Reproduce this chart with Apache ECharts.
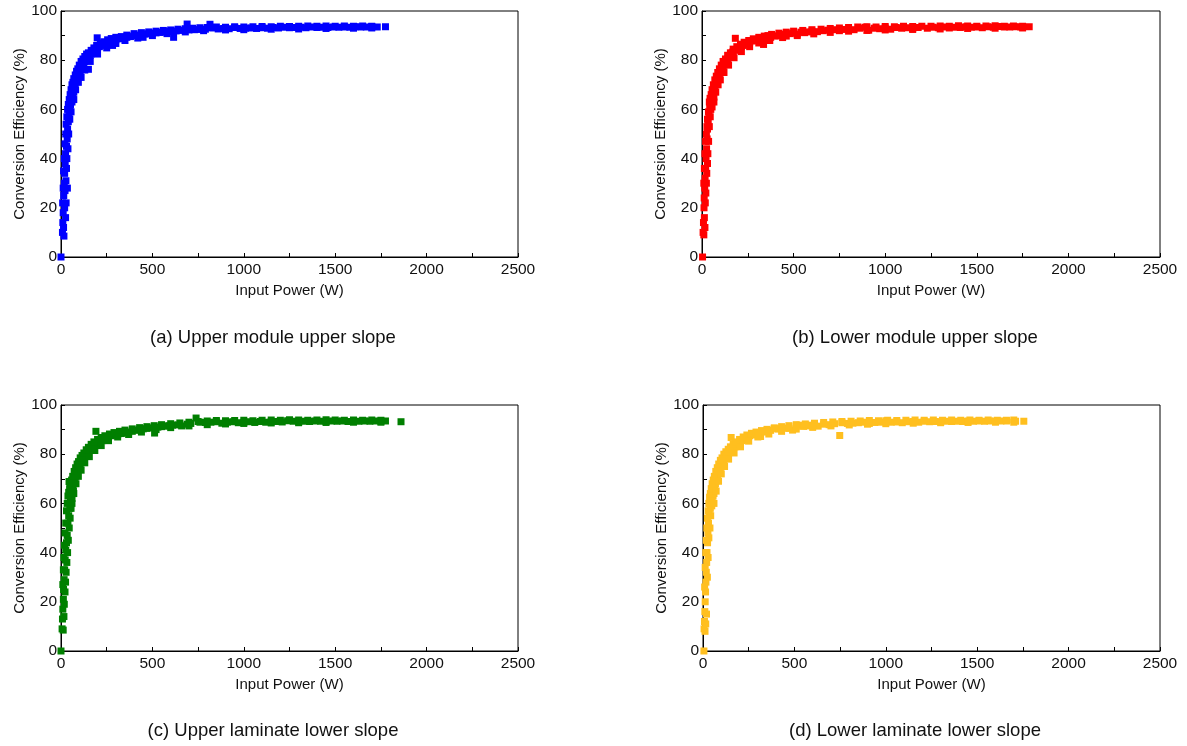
<!DOCTYPE html>
<html>
<head>
<meta charset="utf-8">
<script src="https://cdn.jsdelivr.net/npm/echarts@6/dist/echarts.min.js"></script>
<style>html,body{margin:0;padding:0;background:#fff}#c{width:1187px;height:746px}</style>
</head>
<body>
<div id="c"></div>
<script>
const panelTitles = ['(a) Upper module upper slope', '(b) Lower module upper slope', '(c) Upper laminate lower slope', '(d) Lower laminate lower slope'];
const xName = 'Input Power (W)';
const yName = 'Conversion Efficiency (%)';
const xTicks = [0, 500, 1000, 1500, 2000, 2500];
const yTicks = [0, 20, 40, 60, 80, 100];
const colors = ['#0000ff', '#ff0000', '#007f00', '#ffbf1f'];

const upperModule = [[0,0],[8,10],[10,14],[12,18],[9,22],[14,12],[15,25],[16,8.5],[18,30],[20,20],[20,34],[22,27],[23,38],[25,16],[25,42],[27,31],[28,22],[30,45],[30,36],[32,40],[34,48],[35,28],[36,52],[38,44],[40,55],[42,50],[44,58],[45,61],[48,56],[50,60],[52,62],[55,59],[58,64],[60,63],[62,66],[65,65],[68,68],[70,67],[72,70],[75,69],[78,71],[80,72],[85,73],[88,72],[90,74],[95,75],[100,76],[105,75],[110,77],[115,78],[120,77.5],[125,79],[130,79.5],[135,80],[140,80.5],[145,81],[150,76.3],[150,81.5],[155,82],[160,82],[165,82.5],[170,83],[175,83.5],[180,84],[185,84],[190,84.5],[198,89.1],[200,85],[210,85.5],[220,86],[230,86.5],[240,87],[250,87],[260,87.5],[270,87.8],[282,86],[290,88],[300,88.3],[320,88.7],[340,89],[360,89.3],[380,89.6],[400,90],[420,90.2],[449,89.3],[460,90.6],[480,90.8],[500,91],[520,91.1],[540,91.3],[560,91.4],[580,91.6],[600,91.7],[616,89.3],[630,91.9],[660,92.1],[690,94.7],[700,92.3],[730,92.4],[760,92.5],[790,92.6],[815,94.6],[830,93.1],[860,92.7],[890,92.9],[920,92.8],[950,93.3],[980,92.9],[1010,93],[1040,93.1],[1070,92.9],[1100,93.2],[1130,93],[1160,93.3],[1190,93.1],[1220,93.4],[1250,93.2],[1280,93.3],[1310,93.4],[1340,93.2],[1370,93.5],[1400,93.3],[1430,93.4],[1460,93.3],[1490,93.5],[1520,93.4],[1550,93.5],[1580,93.4],[1610,93.6],[1640,93.5],[1670,93.5],[1700,93.6],[1730,93.5],[1775,93.6],
[12,28],[14,35],[18,40],[22,46],[26,50],[28,54],[32,57],[36,60],[40,62],[45,64],[50,66],[55,68],[60,70],[65,71],[70,72.5],[78,74],[85,75.5],[92,76.5],[100,78],[110,79.5],[120,80.5],[130,81.5],[140,82.5],[150,83],[165,84],[180,85],[195,86],[215,87],[235,87.5],[255,88.3],[275,88.8],[300,89.3],[330,89.6],[360,90.2],[400,90.8],[440,91.2],[480,91.5],[520,91.8],[560,92.1],[600,92.3],[640,92.6],[680,92.8],[720,93],[760,93.2],[800,93.3],[850,93.5],[900,93.4],[950,93.6],[1000,93.5],[1050,93.6],[1100,93.7],[1150,93.6],[1200,93.8],[1250,93.7],[1300,93.8],[1350,93.9],[1400,93.8],[1450,93.9],[1500,93.8],[1550,93.9],[1600,93.8],[1650,93.9],[1700,93.8],
[70,64],[80,68],[95,71],[110,73],[130,76],[160,79.5],[200,82.5],[250,85],[300,86.8],[350,88],[420,89],[500,90],[580,90.8],[680,91.5],[780,92],[900,92.3],[1000,92.4],[1150,92.6],[1300,92.7],[1450,92.9],[1600,93],[1700,93.1]];

const lowerModule = [[3,0],[6,10],[8,14],[10,9],[11,20],[12,24],[13,16],[15,28],[16,12],[17,32],[18,22],[20,36],[21,26],[22,40],[24,30],[25,44],[26,34],[28,48],[30,38],[30,52],[32,42],[34,55],[36,47],[38,58],[40,53],[42,61],[45,57],[48,60],[50,62],[55,61],[58,64],[60,66],[65,65],[68,68],[70,69],[75,70],[80,71.5],[85,72],[90,74],[95,74.5],[100,75.5],[105,76],[110,76.5],[115,77.5],[120,78],[125,79],[130,79],[135,80],[140,80.5],[145,81],[150,81.5],[160,82],[165,83],[170,83.5],[182,88.9],[185,84],[195,84.5],[205,85],[215,85.5],[225,86],[235,86.5],[245,87],[260,87.3],[275,87.8],[290,88],[310,88.5],[336,86.4],[345,88.9],[360,90],[375,89.3],[400,89.8],[420,90],[440,90.5],[460,89.8],[480,90.8],[500,91],[520,90.6],[540,91.4],[560,91.2],[580,91.5],[600,91.8],[630,91.6],[660,92],[690,92.2],[720,92.4],[750,92],[780,92.5],[800,92.7],[830,92.4],[860,93],[890,93.4],[910,92.2],[940,93],[970,92.8],[1000,93.1],[1030,92.6],[1060,93.3],[1090,93],[1120,93.2],[1150,92.8],[1180,93.3],[1200,93.8],[1230,93],[1260,93.4],[1290,93.2],[1320,93.5],[1350,93.1],[1380,93.4],[1410,93.3],[1440,93.6],[1470,93.4],[1500,93.5],[1530,93.2],[1560,93.6],[1590,93.4],[1620,93.7],[1650,93.5],[1680,93.5],[1710,93.6],[1740,93.5],[1786,93.6],
[10,30],[13,36],[16,42],[20,47],[24,50],[27,53],[30,56],[35,59],[40,63],[44,64.5],[50,66],[55,68],[62,70],[70,72],[78,73.5],[86,75],[95,76.5],[105,78],[115,79.5],[128,80.5],[140,82],[155,83],[170,84.5],[190,85.5],[210,86.5],[230,87.3],[255,88],[280,88.7],[310,89.3],[340,89.8],[380,90.5],[420,91],[460,91.4],[500,91.8],[550,92.1],[600,92.4],[650,92.6],[700,92.9],[750,93.1],[800,93.3],[850,93.5],[900,93.6],[950,93.5],[1000,93.7],[1050,93.6],[1100,93.8],[1150,93.7],[1250,93.8],[1300,93.9],[1350,93.8],[1400,94],[1450,93.9],[1500,93.8],[1550,93.9],[1600,94],[1650,93.8],[1700,93.9],[1750,93.8],
[65,63],[75,67],[88,70],[100,72],[120,75],[145,78],[175,81],[215,83.5],[260,85.5],[310,87],[370,88],[440,89.2],[520,90],[610,90.7],[700,91.3],[800,91.8],[900,92.1],[1000,92.3],[1150,92.5],[1300,92.7],[1450,92.9],[1600,93],[1750,93.1]];

const upperLaminate = [[0,0],[6,9],[8,13],[10,17],[12,8.5],[13,21],[14,25],[16,14],[17,29],[18,19],[20,33],[22,24],[23,37],[25,28],[26,41],[28,32],[30,44],[32,36],[34,47],[36,40],[38,52],[40,45],[44,68.9],[42,55],[45,50],[48,58],[49,68.9],[50,54],[52,61],[55,58],[58,63],[60,62],[65,66],[68,65],[70,68],[75,69.5],[80,71],[85,72],[90,73],[95,74.5],[100,75],[105,76],[110,76.5],[115,77.5],[120,78],[125,78.5],[130,79.5],[140,80],[145,80.5],[150,81],[160,82],[165,82.5],[170,83],[180,83.5],[191,89.3],[195,84],[205,84.5],[215,85],[225,85.5],[235,86],[245,86.5],[260,87],[275,87.5],[290,87.8],[310,88],[330,88.4],[350,88.7],[370,89],[390,89.3],[410,89.7],[430,90],[450,90.3],[470,90.5],[490,90.7],[512,88.6],[530,91],[550,91.2],[570,91.4],[590,91.6],[610,91.8],[640,91.9],[660,91.5],[690,92.2],[710,92.5],[739,94.7],[760,93],[790,92.9],[820,93],[850,93.2],[880,92.6],[910,93],[940,93.2],[970,92.8],[1000,93],[1030,93.2],[1060,92.9],[1090,93.3],[1120,93],[1150,93.2],[1180,93.3],[1210,93.1],[1240,93.6],[1270,93.4],[1300,93.2],[1330,93.4],[1360,93.3],[1390,93.5],[1420,93.4],[1450,93.3],[1480,93.5],[1510,93.4],[1540,93.5],[1570,93.3],[1600,93.5],[1630,93.4],[1660,93.5],[1690,93.4],[1720,93.5],[1750,93.4],[1775,93.5],[1860,93.2],
[10,27],[13,33],[16,38],[19,43],[22,48],[26,52],[30,57],[34,60],[38,63],[42,64.5],[47,66],[52,67.5],[58,69.5],[64,71],[72,73],[80,74.5],[88,76],[96,77],[105,78.5],[115,79.5],[125,80.5],[138,81.8],[150,82.8],[165,84],[180,85],[200,86],[220,86.8],[240,87.5],[265,88.2],[290,88.8],[320,89.3],[350,89.8],[390,90.3],[430,90.8],[470,91.2],[510,91.6],[550,92],[600,92.4],[650,92.7],[700,93],[750,93.3],[800,93.5],[850,93.7],[900,93.6],[950,93.7],[1000,93.8],[1050,93.6],[1100,93.8],[1150,93.9],[1200,93.8],[1250,94],[1300,93.9],[1350,93.8],[1400,93.9],[1450,94],[1500,93.9],[1550,93.8],[1600,93.9],[1650,93.8],[1700,93.9],[1750,93.8],
[60,60],[70,64],[82,68],[95,71],[110,73.5],[130,76.5],[155,79],[185,81.5],[220,83.5],[260,85.5],[310,87],[370,88],[440,89],[520,90],[600,90.8],[700,91.5],[800,92],[900,92.3],[1000,92.5],[1150,92.7],[1300,92.8],[1450,92.9],[1600,93],[1750,93]];

const lowerLaminate = [[5,0],[6,9],[8,12],[10,16],[11,8],[12,20],[14,24],[15,11],[16,28],[18,32],[19,15],[20,36],[22,40],[24,30],[25,44],[27,48],[28,38],[30,52],[32,46],[34,56],[35,60],[38,50],[40,58],[42,55],[45,61],[48,59],[50,62],[55,63],[58,65],[60,64],[65,67],[68,68],[70,69],[75,70],[80,71.5],[85,72.5],[90,73.5],[95,74],[100,75],[105,76],[110,77],[115,77.5],[120,78.5],[125,79],[130,79.5],[135,80],[140,80.5],[145,81],[154,86.8],[155,81.5],[165,82.5],[175,83],[185,83.5],[195,84.5],[205,85],[215,85.5],[225,86],[240,86.5],[255,87.5],[270,87.8],[285,88.2],[300,88.5],[315,87.2],[330,89],[350,89.4],[370,89.7],[390,90.5],[410,90.2],[430,90.5],[450,90.6],[470,90.5],[490,89.8],[510,91.2],[530,91.8],[550,91.3],[570,91.5],[590,91.8],[610,92],[630,91.4],[660,92.2],[690,92],[720,92.4],[748,87.6],[760,92.8],[790,92.5],[820,92.6],[850,92.8],[880,93],[910,92.5],[940,92.9],[970,93],[1000,93.6],[1030,93],[1060,93.1],[1090,92.8],[1120,93.2],[1150,93.3],[1180,93],[1210,93.4],[1240,93.2],[1270,93.3],[1300,93.2],[1330,93.4],[1360,93.3],[1390,93.4],[1420,93.3],[1450,93.5],[1480,93.4],[1510,93.5],[1540,93.4],[1570,93.5],[1600,93.4],[1630,93.5],[1660,93.5],[1710,93.4],[1755,93.4],
[9,26],[12,34],[15,40],[18,45],[21,50],[24,54],[28,57],[32,60],[36,62.5],[40,64],[45,66],[50,68],[56,69.5],[62,71],[70,73],[78,74.5],[86,76],[95,77.5],[104,78.5],[114,80],[125,81],[138,82],[150,83],[165,84],[180,85],[200,86],[220,87],[240,87.8],[265,88.5],[290,89],[320,89.6],[350,90.1],[390,90.7],[430,91.2],[470,91.6],[510,92],[560,92.3],[610,92.6],[660,92.9],[710,93.1],[760,93.3],[810,93.4],[860,93.5],[910,93.7],[960,93.6],[1010,93.8],[1060,93.7],[1110,93.8],[1160,93.9],[1210,93.8],[1260,93.9],[1310,93.8],[1360,93.9],[1410,93.8],[1460,93.9],[1510,93.8],[1560,93.9],[1610,93.8],[1660,93.8],[1700,93.9],
[60,60],[72,65],[85,69],[100,72],[118,75],[140,78],[170,80.5],[205,83],[250,85.3],[300,87],[360,88.2],[430,89.3],[510,90.2],[600,90.9],[700,91.5],[800,91.9],[900,92.2],[1000,92.4],[1150,92.6],[1300,92.8],[1450,92.9],[1600,93],[1700,93]];

const seriesData = [upperModule, lowerModule, upperLaminate, lowerLaminate];

const grids = [
  {left: 61, top: 11, width: 457, height: 246},
  {left: 702, top: 11, width: 458, height: 246},
  {left: 61, top: 405, width: 457, height: 246},
  {left: 703, top: 405, width: 457, height: 246}
];
const titlePos = [[268, 323], [910, 323], [268, 716], [910, 716]];

const font = 'Liberation Sans, Arial, sans-serif';
const axisLineStyle = {color: '#000', width: 1};

const option = {
  backgroundColor: '#fff',
  animation: false,
  title: panelTitles.map((t, i) => ({
    text: t, left: titlePos[i][0], top: titlePos[i][1], textAlign: 'center',
    textStyle: {fontFamily: font, fontSize: 18.5, fontWeight: 'normal', color: '#111'}
  })),
  grid: grids.map(g => Object.assign({show: true, borderColor: '#000', borderWidth: 1, backgroundColor: 'transparent'}, g)),
  xAxis: grids.map((g, i) => ({
    type: 'value', gridIndex: i, min: xTicks[0], max: xTicks[xTicks.length - 1], interval: 500,
    name: xName, nameLocation: 'middle', nameGap: 26,
    nameTextStyle: {fontFamily: font, fontSize: 15, color: '#111'},
    axisLine: {show: true, lineStyle: axisLineStyle},
    axisTick: {show: true, inside: true, length: 4, lineStyle: {color: '#000'}},
    minorTick: {show: true, splitNumber: 2, length: 4, lineStyle: {color: '#000'}},
    splitLine: {show: false},
    axisLabel: {fontFamily: font, fontSize: 15.5, color: '#111', margin: 5, formatter: v => String(v)}
  })),
  yAxis: grids.map((g, i) => ({
    type: 'value', gridIndex: i, min: yTicks[0], max: yTicks[yTicks.length - 1], interval: 20,
    name: yName, nameLocation: 'middle', nameGap: 34,
    nameTextStyle: {fontFamily: font, fontSize: 15, color: '#111'},
    axisLine: {show: true, lineStyle: axisLineStyle},
    axisTick: {show: true, inside: true, length: 4, lineStyle: {color: '#000'}},
    minorTick: {show: true, splitNumber: 2, length: 4, lineStyle: {color: '#000'}},
    splitLine: {show: false},
    axisLabel: {fontFamily: font, fontSize: 15.5, color: '#111', margin: 4, formatter: v => String(v)}
  })),
  series: seriesData.map((d, i) => ({
    type: 'scatter', xAxisIndex: i, yAxisIndex: i, data: d,
    symbol: 'rect', symbolSize: 7, clip: false,
    itemStyle: {color: colors[i], opacity: 1}
  }))
};

const chart = echarts.init(document.getElementById('c'), null, {renderer: 'canvas'});
chart.setOption(option);
</script>
</body>
</html>
